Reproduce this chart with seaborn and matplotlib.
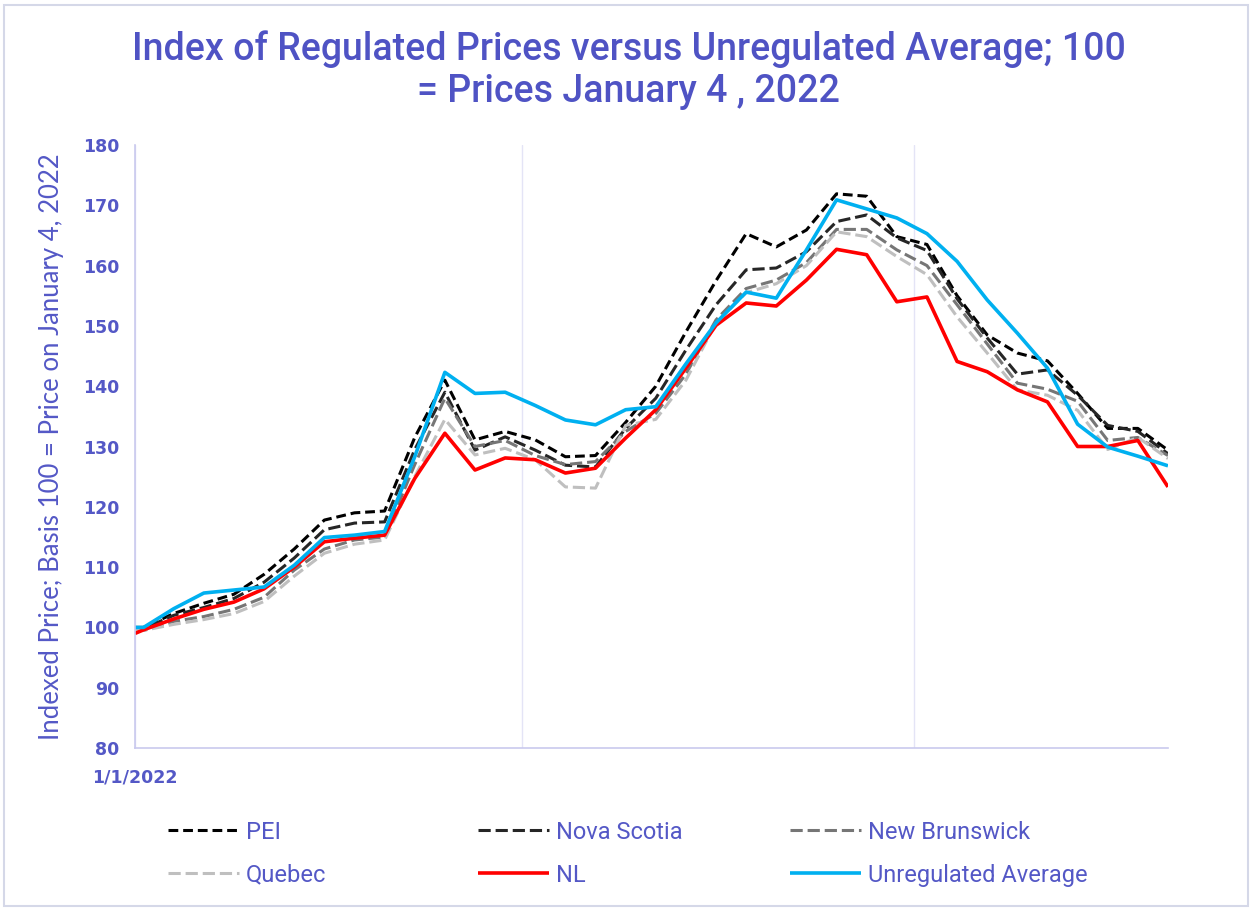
import matplotlib
matplotlib.use("Agg")
import matplotlib.pyplot as plt
import pandas as pd
import seaborn as sns

# weekly observations (first point = axis start 1/1/2022)
dates = pd.to_datetime(["2022-01-01"]).append(pd.date_range("2022-01-03", periods=35, freq="7D"))

pei = [100.0, 100.0, 102.3, 104.0, 105.5, 108.8, 113.0, 117.8, 119.0, 119.3, 131.5, 141.0,
       131.1, 132.5, 131.1, 128.3, 128.5, 134.0, 140.0, 149.0, 157.5, 165.3, 163.1, 165.9,
       171.9, 171.5, 164.8, 163.5, 155.0, 148.5, 145.5, 144.2, 138.8, 133.0, 133.0, 129.4]
nova_scotia = [99.8, 99.8, 102.0, 103.3, 104.8, 107.5, 111.5, 116.2, 117.3, 117.5, 129.5, 139.0,
               129.4, 131.6, 129.4, 126.9, 126.6, 133.0, 138.0, 146.0, 153.5, 159.3, 159.6, 162.3,
               167.3, 168.4, 164.6, 162.5, 154.5, 148.0, 142.0, 142.7, 138.5, 133.5, 132.5, 128.8]
new_brunswick = [99.5, 99.5, 101.0, 101.8, 103.0, 105.0, 109.5, 113.0, 114.5, 115.0, 127.0, 138.0,
                 130.0, 131.0, 128.5, 127.0, 127.5, 132.5, 135.5, 142.0, 151.0, 156.2, 157.6, 160.5,
                 166.0, 166.0, 162.6, 160.0, 153.5, 147.0, 140.5, 139.5, 137.5, 131.0, 131.5, 128.5]
quebec = [99.5, 99.5, 100.5, 101.3, 102.3, 104.3, 108.5, 112.3, 113.8, 114.5, 125.0, 134.5,
          128.6, 129.7, 127.8, 123.3, 123.1, 133.5, 134.5, 141.0, 150.5, 155.5, 157.0, 160.0,
          165.6, 164.8, 161.5, 158.5, 151.5, 145.5, 139.4, 138.5, 136.0, 129.5, 131.5, 128.0]
nl = [99.0, 99.6, 101.4, 103.0, 104.2, 106.4, 110.0, 114.2, 114.8, 115.3, 124.7, 132.2,
      126.1, 128.1, 127.8, 125.6, 126.4, 131.4, 136.1, 143.0, 150.1, 153.8, 153.3, 157.6,
      162.7, 161.8, 154.0, 154.8, 144.1, 142.4, 139.4, 137.4, 130.0, 130.0, 131.0, 123.3]
unregulated = [100.0, 100.0, 103.1, 105.7, 106.2, 106.7, 110.3, 114.9, 115.3, 115.9, 128.3, 142.3,
               138.8, 139.0, 136.8, 134.4, 133.6, 136.1, 136.6, 143.7, 150.5, 155.6, 154.6, 162.6,
               170.9, 169.4, 167.9, 165.3, 160.7, 154.3, 148.8, 143.0, 133.7, 129.9, 128.4, 126.8]

SERIES = ["PEI", "Nova Scotia", "New Brunswick", "Quebec", "NL", "Unregulated Average"]
STYLE = {
    "PEI": dict(color="#000000", lw=2.2, dashes=(3.2, 1.6)),
    "Nova Scotia": dict(color="#262626", lw=2.2, dashes=(4.0, 1.6)),
    "New Brunswick": dict(color="#767676", lw=2.2, dashes=(4.0, 1.6)),
    "Quebec": dict(color="#BFBFBF", lw=2.2, dashes=(4.0, 1.6)),
    "NL": dict(color="#FF0000", lw=2.6, dashes=None),
    "Unregulated Average": dict(color="#00B0F0", lw=2.6, dashes=None),
}

TXT = "#5458C6"
NARROW = ["Roboto", "DejaVu Sans"]

df = pd.DataFrame({"Date": dates, "PEI": pei, "Nova Scotia": nova_scotia,
                   "New Brunswick": new_brunswick, "Quebec": quebec, "NL": nl,
                   "Unregulated Average": unregulated})
long_df = df.melt(id_vars="Date", var_name="Series", value_name="Index")

sns.set_theme(style="white")
plt.rcParams["font.family"] = ["DejaVu Sans"]

fig, ax = plt.subplots(figsize=(12.52, 9.09), dpi=100)
fig.subplots_adjust(left=0.1078, right=0.9329, top=0.8405, bottom=0.1771)

handles = {}
for name in SERIES:
    st = STYLE[name]
    sub = long_df[long_df["Series"] == name]
    sns.lineplot(data=sub, x="Date", y="Index", ax=ax, color=st["color"],
                 linewidth=st["lw"], legend=False)
    line = ax.lines[-1]
    if st["dashes"]:
        line.set_dashes(st["dashes"])
    line.set_solid_capstyle("butt")
    handles[name] = line

ax.set_ylim(80, 180)
ax.set_yticks(range(80, 181, 10))
ax.set_xlim(dates[0], dates[-1])
ax.set_xticks(pd.to_datetime(["2022-01-01", "2022-04-01", "2022-07-01"]))
ax.set_xticklabels(["1/1/2022", "", ""])
ax.grid(axis="x", color="#E4E4F6", linewidth=1)
ax.grid(axis="y", visible=False)
ax.tick_params(axis="both", length=0, labelsize=12.5, labelcolor=TXT)
ax.tick_params(axis="y", pad=11)
ax.tick_params(axis="x", pad=15)
for lab in ax.get_xticklabels() + ax.get_yticklabels():
    lab.set_fontweight("bold")
for side in ["top", "right"]:
    ax.spines[side].set_visible(False)
for side in ["left", "bottom"]:
    ax.spines[side].set_color("#C9C9EE")
    ax.spines[side].set_linewidth(1.2)

ax.set_xlabel("")
ax.set_ylabel("Indexed Price; Basis 100 = Price on January 4, 2022",
              color=TXT, fontsize=18.5, family=["Lato", "DejaVu Sans"], labelpad=14)

fig.text(0.502, 0.923, "Index of Regulated Prices versus Unregulated Average; 100\n= Prices January 4 , 2022",
         ha="center", va="center", fontsize=27, fontweight="medium", color="#4F53C4",
         family=NARROW, linespacing=1.15)

columns = [("PEI", "Quebec"), ("Nova Scotia", "NL"), ("New Brunswick", "Unregulated Average")]
col_x = [0.134, 0.382, 0.631]
for (top, bottom), x in zip(columns, col_x):
    leg = fig.legend(handles=[handles[top], handles[bottom]], labels=[top, bottom],
                     loc="center left", bbox_to_anchor=(x, 0.061), frameon=False,
                     prop={"family": NARROW, "size": 17}, handlelength=3.0,
                     handletextpad=0.3, labelspacing=0.85, borderpad=0, borderaxespad=0)
    for t in leg.get_texts():
        t.set_color(TXT)

fig.patches.append(plt.Rectangle((0.003, 0.003), 0.994, 0.991, transform=fig.transFigure,
                                 fill=False, edgecolor="#D5D8E8", linewidth=1.5))

fig.savefig("out.png", dpi=100)
